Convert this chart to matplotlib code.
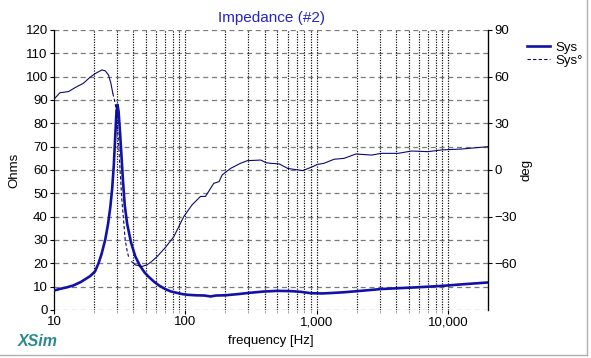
import matplotlib
matplotlib.use("Agg")
import matplotlib.pyplot as plt
from matplotlib.lines import Line2D
from matplotlib.ticker import FixedLocator, FuncFormatter, NullFormatter
import numpy as np

plt.rcParams["font.family"] = ["Liberation Sans", "DejaVu Sans"]

# impedance magnitude (Sys)
imp_freq = [10, 11, 12.5, 14, 16, 18.8, 20.5, 21.8, 23, 24.5, 25.8, 26.8, 27.7, 28.5,
            29.2, 29.8, 30.4, 31.0, 31.8, 32.6, 33.5, 34.5, 36, 38.5, 41.5, 45, 49, 53,
            58, 63, 70, 77, 85, 95, 105, 120, 140, 155, 170, 200, 250, 300, 390, 500,
            630, 750, 900, 1100, 1300, 1600, 2050, 3100, 5200, 8800, 12700, 20000]
imp_ohm = [8.3, 9.0, 9.7, 10.5, 12, 14.5, 16.5, 20, 24, 30, 37, 44, 52, 62,
           74, 84, 88, 85, 76, 66, 55, 45, 37, 29, 23, 19, 16, 14,
           12, 10.5, 9, 8, 7.4, 6.8, 6.5, 6.3, 6.2, 5.8, 6.2, 6.3, 6.8, 7.3, 7.9, 8.2,
           8.1, 7.8, 7.2, 7.1, 7.3, 7.6, 8.1, 9.0, 9.6, 10.3, 11.0, 11.8]

# phase (Sys°)
ph_freq = [10, 11.1, 12.9, 14.5, 16.7, 18.8, 20.6, 23.1, 24.5, 26, 27.1, 28, 29.2, 30,
           30.9, 31.8, 32.8, 33.8, 34.8, 36, 36.9, 39, 41.5, 46.7, 50.9, 55, 60.8, 70,
           81.4, 97, 112, 130, 142, 164, 180, 190, 220, 262, 296, 374, 410, 445, 517,
           600, 780, 900, 1010, 1130, 1350, 1610, 1980, 2610, 3080, 4140, 5230, 6990,
           8880, 12600, 20000]
ph_deg = [45.5, 49.7, 50.4, 53, 55.7, 59.6, 62, 64.3, 63.8, 61, 55.7, 49.3, 43, 34,
          19, 0, -19, -32, -45, -52, -55.7, -59, -61, -62, -61, -59, -55.7, -50,
          -43, -30, -22.5, -17, -17, -8.6, -7.5, -3.2, 1, 4.3, 6, 6.4, 4.7, 4.3, 3.9,
          1, -0.4, 1.7, 3.6, 4.3, 6.9, 7.5, 10.3, 9.6, 10.7, 10.7, 12.2, 11.8,
          12.9, 13.5, 15]

y_ticks = list(range(0, 121, 10))
deg_ticks = [-60, -30, 0, 30, 60, 90]
x_major = [10, 100, 1000, 10000]

fig = plt.figure(figsize=(5.91, 3.58), dpi=100)
ax = fig.add_axes([54 / 591, 48 / 358, 434 / 591, 280 / 358])
ax2 = ax.twinx()

ax.set_xscale("log")
ax.set_xlim(10, 20000)
ax.set_ylim(0, 120)
ax2.set_ylim(-90, 90)

# grid: dashed gray horizontals, dotted black verticals
for v in y_ticks:
    ax.axhline(v, color="#7a7a7a", lw=0.9, ls=(0, (4, 3)), zorder=1)
grid_x = [m * 10 ** d for d in range(1, 5) for m in range(1, 10) if m * 10 ** d < 20000]
for gx in grid_x[1:]:
    ax.axvline(gx, color="black", lw=0.85, ls=(0, (1, 1.2)), zorder=1)

ax.plot(imp_freq, imp_ohm, color="#1212a6", lw=1.9, zorder=3)

pf = np.array(ph_freq)
pd_ = np.array(ph_deg)
lo, hi = 28, 37
m1 = pf <= lo
m2 = (pf >= lo) & (pf <= hi)
m3 = pf >= hi
ax2.plot(pf[m1], pd_[m1], color="#0a0a70", lw=0.8, zorder=3)
ax2.plot(pf[m2], pd_[m2], color="#0a0a70", lw=0.8, ls=(0, (3, 2)), zorder=3)
ax2.plot(pf[m3], pd_[m3], color="#0a0a70", lw=0.8, zorder=3)

# ticks and labels
ax.xaxis.set_major_locator(FixedLocator(x_major))
ax.xaxis.set_minor_locator(FixedLocator(grid_x))
ax.xaxis.set_minor_formatter(NullFormatter())
ax.xaxis.set_major_formatter(FuncFormatter(lambda v, p: f"{int(v):,}"))
ax.set_yticks(y_ticks)
ax2.set_yticks(deg_ticks)
ax.tick_params(axis="both", labelsize=9.5, length=3, width=0.8, pad=1.5, colors="black")
ax.tick_params(axis="x", which="minor", length=2, width=0.6, color="#999999")
ax2.tick_params(axis="y", labelsize=9.5, length=3, width=0.8, pad=1.5)

for a in (ax, ax2):
    a.spines["top"].set_visible(False)
    a.spines["bottom"].set_visible(False)
ax.spines["left"].set_linewidth(0.9)
ax2.spines["right"].set_linewidth(0.9)
ax2.spines["left"].set_visible(False)

ax.set_ylabel("Ohms", fontsize=9.5, labelpad=4)
ax2.set_ylabel("deg", fontsize=9.5, labelpad=3)
ax.set_xlabel("frequency [Hz]", fontsize=9.5, labelpad=5)
ax.set_title("Impedance (#2)", fontsize=11, color="#2424c4", pad=6)

handles = [Line2D([], [], color="#1212a6", lw=1.9),
           Line2D([], [], color="#0a0a70", lw=0.8, ls=(0, (3, 2)))]
fig.legend(handles, ["Sys", "Sys°"], loc="upper left", bbox_to_anchor=(522 / 591, 1 - 36 / 358),
           frameon=False, fontsize=9.5, handlelength=1.7, handletextpad=0.4,
           labelspacing=0.1, borderaxespad=0)

fig.text(18 / 591, 1 - 341 / 358, "XSim", fontsize=11.5, fontweight="bold", style="italic",
         color="#2b8a8f", va="center")

# light frame at right and bottom of the window
fig.add_artist(Line2D([587 / 591, 587 / 591], [3 / 358, 1], color="#b0b0b0", lw=1))
fig.add_artist(Line2D([0, 587 / 591], [3 / 358, 3 / 358], color="#b0b0b0", lw=1))

fig.savefig("out.png", dpi=100, facecolor="white")
